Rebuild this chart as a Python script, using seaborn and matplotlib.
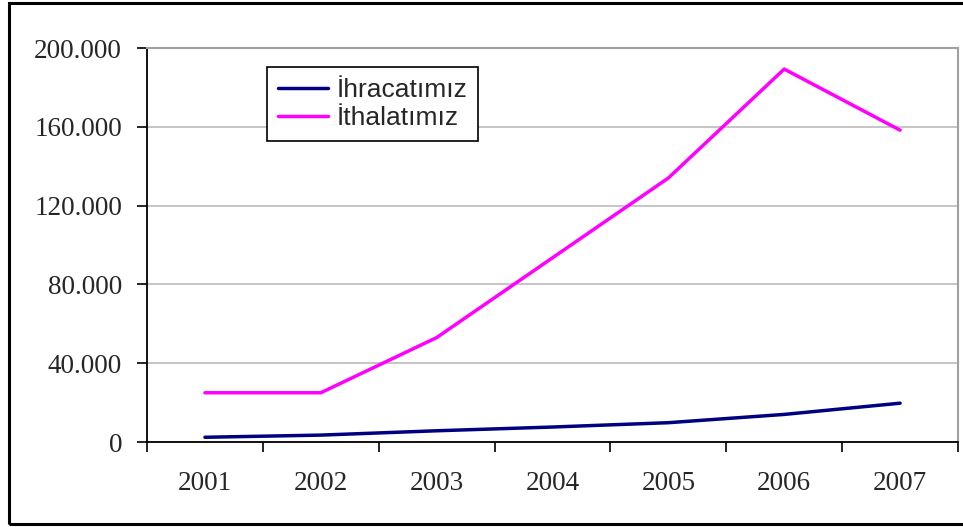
import numpy as np
import pandas as pd
import matplotlib
matplotlib.use("Agg")
import matplotlib.pyplot as plt
import seaborn as sns
from matplotlib.patches import Rectangle
from matplotlib.ticker import FuncFormatter, FixedLocator

# data
years = ["2001", "2002", "2003", "2004", "2005", "2006", "2007"]
ihracat = [2400, 3500, 5700, 7600, 9800, 14000, 19700]
ithalat = [25000, 25000, 53000, 93500, 134000, 189300, 158300]
series_names = ["İhracatımız", "İthalatımız"]
series_colors = ["#000080", "#FF00FF"]
y_ticks = [0, 40000, 80000, 120000, 160000, 200000]

df = pd.DataFrame({
    "year": years * 2,
    "value": ihracat + ithalat,
    "series": [series_names[0]] * len(years) + [series_names[1]] * len(years),
})

sns.set_style("white")
plt.rcParams["font.family"] = ["Liberation Serif", "DejaVu Serif"]

fig = plt.figure(figsize=(9.63, 5.27), dpi=100)
ax = fig.add_axes([147 / 963, 1 - 442 / 527, (958 - 147) / 963, (442 - 48) / 527])

sns.lineplot(data=df, x="year", y="value", hue="series",
             palette=dict(zip(series_names, series_colors)),
             linewidth=2.5, ax=ax, legend=False)

ax.set_xlim(-0.5, len(years) - 0.5)
ax.set_ylim(0, 200000)
ax.set_yticks(y_ticks)
ax.yaxis.set_major_formatter(FuncFormatter(lambda v, p: f"{v:,.0f}".replace(",", ".")))
ax.grid(axis="y", color="#c0c0c0", linewidth=1.3)
ax.set_axisbelow(True)
ax.set_xlabel("")
ax.set_ylabel("")

# ticks between categories like excel
ax.xaxis.set_minor_locator(FixedLocator(np.arange(-0.5, len(years), 1.0)))
ax.tick_params(axis="x", which="major", length=0, pad=21, labelsize=19.5)
ax.tick_params(axis="x", which="minor", bottom=True, length=7, width=1.2, color="black", direction="out")
ax.tick_params(axis="y", left=True, length=7, width=1.2, color="black", pad=11, labelsize=19.5, direction="out")

for s in ["left", "bottom"]:
    ax.spines[s].set_color("black")
    ax.spines[s].set_linewidth(1.3)
for s in ["top", "right"]:
    ax.spines[s].set_color("#a0a0a0")
    ax.spines[s].set_linewidth(1.5)

handles = [plt.Line2D([], [], color=c, linewidth=2.5) for c in series_colors]
leg = fig.legend(handles, series_names, loc="upper left",
                 bbox_to_anchor=(267 / 963, 1 - 67 / 527),
                 prop={"family": ["Liberation Sans", "DejaVu Sans"], "size": 19},
                 frameon=True, fancybox=False, framealpha=1, edgecolor="black",
                 handlelength=1.9, handletextpad=0.3, labelspacing=0.15,
                 borderpad=0.42, borderaxespad=0)
leg.get_frame().set_linewidth(1.2)

# outer chart frame
fig.patches.append(Rectangle((8.5 / 963, 1 - 524 / 527), 1.2, (524 - 3) / 527,
                             transform=fig.transFigure, fill=False,
                             edgecolor="black", linewidth=2.2))

fig.savefig("out.png", dpi=100)
